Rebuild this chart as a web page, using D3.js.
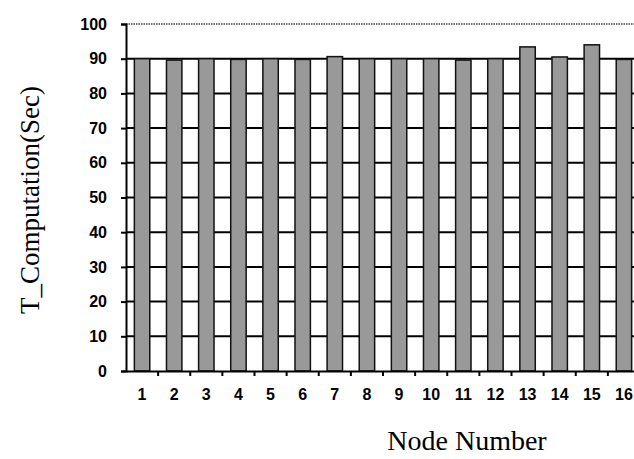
<!DOCTYPE html>
<html>
<head>
<meta charset="utf-8">
<script src="https://cdn.jsdelivr.net/npm/d3@7"></script>
<style>
  body { margin: 0; background: #fff; }
  .tick text { font-family: "Liberation Sans", Arial, sans-serif; font-weight: bold; font-size: 16px; fill: #000; }
</style>
</head>
<body>
<div id="chart"></div>
<script>
// data
const nodes = ["1", "2", "3", "4", "5", "6", "7", "8", "9", "10", "11", "12", "13", "14", "15", "16"];
const computeTime = [90, 89.6, 90, 89.8, 90, 89.8, 90.6, 90, 90, 90, 89.6, 90, 93.4, 90.5, 94, 89.8];
const yTicks = [0, 10, 20, 30, 40, 50, 60, 70, 80, 90, 100];

const width = 634, height = 459;
const margin = {top: 24, right: -6, bottom: 88, left: 126};
const plotW = width - margin.left - margin.right;
const plotH = height - margin.top - margin.bottom;

const svg = d3.select("#chart").append("svg")
    .attr("width", width)
    .attr("height", height);

const g = svg.append("g")
    .attr("transform", `translate(${margin.left},${margin.top})`);

const x = d3.scaleBand()
    .domain(nodes)
    .range([0, plotW])
    .paddingInner(0.52)
    .paddingOuter(0.26);

const y = d3.scaleLinear()
    .domain([0, 100])
    .range([plotH, 0]);

// horizontal grid lines
g.selectAll(".grid")
    .data(yTicks.filter(d => d > 0 && d < 100))
    .enter().append("line")
    .attr("class", "grid")
    .attr("x1", 0)
    .attr("x2", plotW)
    .attr("y1", d => y(d))
    .attr("y2", d => y(d))
    .style("stroke", "#000")
    .style("stroke-width", 2);

// dotted top border
g.append("line")
    .attr("x1", 0)
    .attr("x2", plotW)
    .attr("y1", y(100))
    .attr("y2", y(100))
    .style("stroke", "#444")
    .style("stroke-width", 1.5)
    .style("stroke-dasharray", "1.5,1");

// bars
g.selectAll(".bar")
    .data(computeTime)
    .enter().append("rect")
    .attr("class", "bar")
    .attr("x", (d, i) => x(nodes[i]))
    .attr("y", d => y(d))
    .attr("width", x.bandwidth())
    .attr("height", d => plotH - y(d))
    .style("fill", "#999")
    .style("stroke", "#111")
    .style("stroke-width", 1.5);

// y axis
const yAxis = g.append("g")
    .call(d3.axisLeft(y).tickValues(yTicks).tickSize(5).tickPadding(14));
yAxis.select(".domain").style("stroke", "#000").style("stroke-width", 2);
yAxis.selectAll(".tick line").style("stroke", "#000").style("stroke-width", 2);

// x axis with ticks at band boundaries
const xAxis = g.append("g")
    .attr("transform", `translate(0,${plotH})`)
    .call(d3.axisBottom(x).tickSize(0).tickPadding(18));
xAxis.select(".domain").style("stroke", "#000").style("stroke-width", 2);
xAxis.selectAll(".bound")
    .data(nodes)
    .enter().append("line")
    .attr("class", "bound")
    .attr("x1", d => x(d) + x.bandwidth() + x.step() * x.paddingInner() / 2)
    .attr("x2", d => x(d) + x.bandwidth() + x.step() * x.paddingInner() / 2)
    .attr("y1", 0)
    .attr("y2", 5)
    .style("stroke", "#000")
    .style("stroke-width", 2);

// axis titles
svg.append("text")
    .attr("x", 467)
    .attr("y", 450)
    .attr("text-anchor", "middle")
    .style("font-family", "'Liberation Serif', 'Times New Roman', serif")
    .style("font-size", "28px")
    .style("fill", "#000")
    .text("Node Number");

svg.append("text")
    .attr("transform", "translate(39,200) rotate(-90)")
    .attr("text-anchor", "middle")
    .style("font-family", "'Liberation Serif', 'Times New Roman', serif")
    .style("font-size", "27px")
    .style("fill", "#000")
    .text("T_Computation(Sec)");
</script>
</body>
</html>
